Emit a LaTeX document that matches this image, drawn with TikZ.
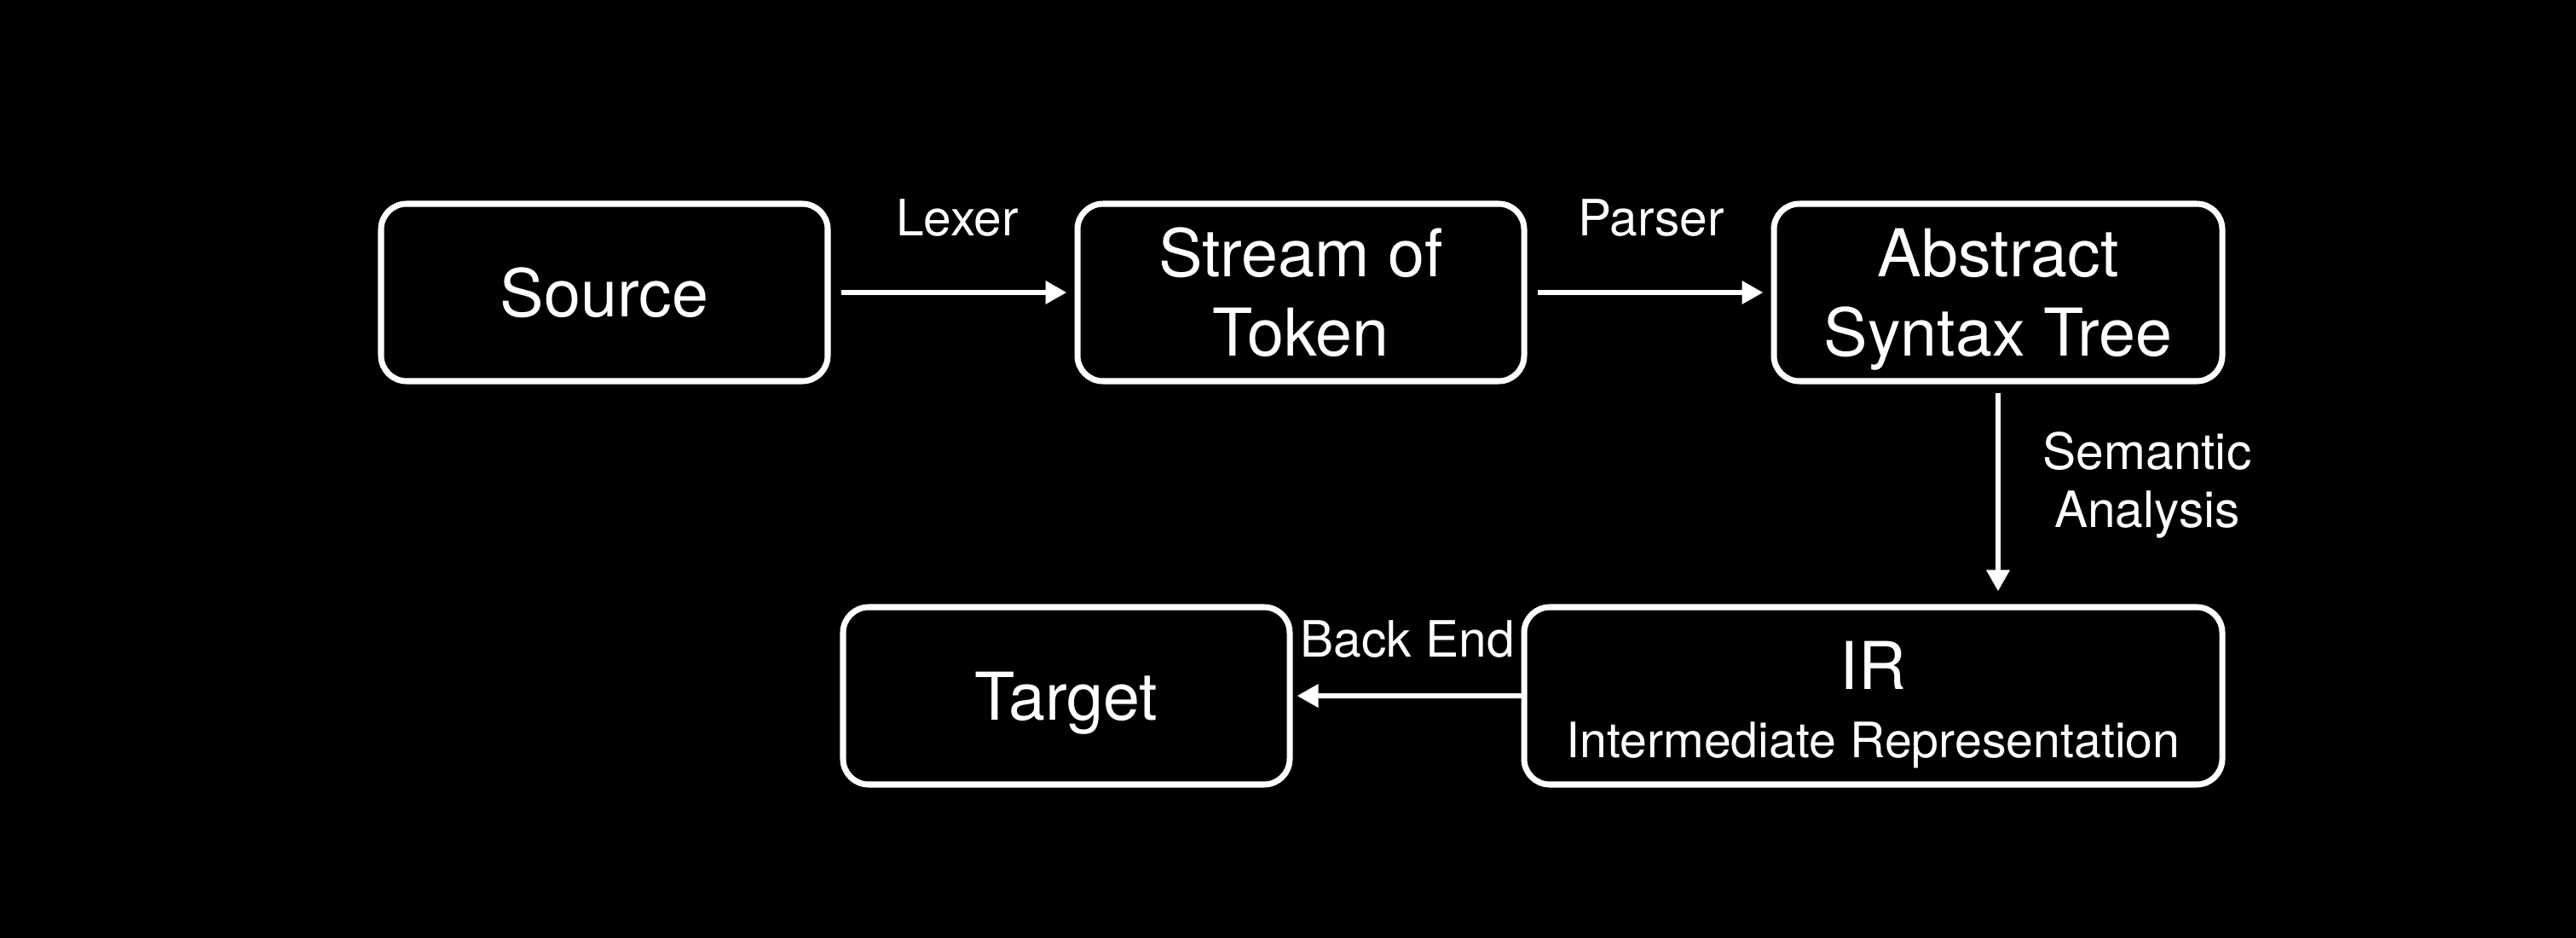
\documentclass[tikz,border=0pt]{standalone}
\usepackage{fontspec}
\setmainfont{TeX Gyre Heros}
\usetikzlibrary{arrows.meta}
\newcommand{\nodp}[1]{\raisebox{0pt}[\height][0pt]{#1}}
\begin{document}
\begin{tikzpicture}[x=1cm,y=1cm,
  stage/.style={draw=white, line width=2pt, rounded corners=0.3cm, text=white,
    minimum height=2.08cm, inner sep=0pt, align=center,
    font=\fontsize{22pt}{26.5pt}\selectfont},
  lbl/.style={text=white, align=center, inner sep=0pt,
    font=\fontsize{16.7pt}{19.3pt}\selectfont},
  flow/.style={draw=white, line width=1.8pt,
    -{Triangle[length=0.25cm,width=0.26cm]}}]
\fill[black] (0,0) rectangle (30.22,-11);
\useasboundingbox (0,0) rectangle (30.22,-11);

\node[stage, minimum width=5.24cm] (src) at (7.09,-3.43) {Source};
\node[stage, minimum width=5.24cm] (tok) at (15.26,-3.43) {Stream of\\Token};
\node[stage, minimum width=5.26cm] (ast) at (23.44,-3.43) {Abstract\\\nodp{Syntax Tree}};
\node[stage, minimum width=5.24cm] (tgt) at (12.51,-8.16) {\nodp{Target}};
\node[stage, minimum width=8.19cm] (ir) at (21.975,-8.16) {};
\node[text=white, inner sep=0pt, font=\fontsize{22pt}{26pt}\selectfont, anchor=base] (irt) at (21.975,-8.08) {IR};
\node[lbl, font=\fontsize{16.3pt}{19pt}\selectfont, anchor=base] (irs) at (21.975,-8.88) {Intermediate Representation};

\draw[flow, shorten <=0.12cm, shorten >=0.09cm] (src.east) -- (tok.west);
\draw[flow, shorten <=0.12cm, shorten >=0.09cm] (tok.east) -- (ast.west);
\draw[flow, shorten <=0.10cm, shorten >=0.15cm] (ast.south) -- (ast.south |- ir.north);
\draw[flow, shorten >=0.05cm] (ir.west) -- (tgt.east);

\node[lbl] (lexer) at (11.23,-2.56) {Lexer};
\node[lbl] (parser) at (19.37,-2.56) {Parser};
\node[lbl] (sem) at (25.19,-5.69) {Semantic\\Analysis};
\node[lbl] (back) at (16.51,-7.50) {Back End};
\end{tikzpicture}
\end{document}
